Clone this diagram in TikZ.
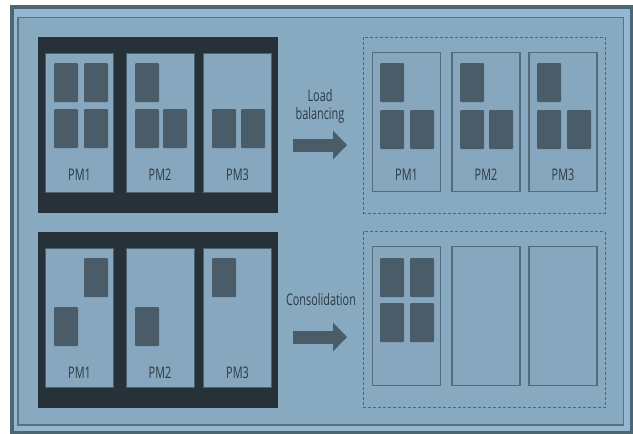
\documentclass[tikz,border=0pt]{standalone}
\usepackage{fontspec}
\setmainfont{Open Sans}[FakeStretch=0.68]
\usetikzlibrary{arrows.meta}
\definecolor{framecol}{HTML}{4E6572}
\definecolor{stripecol}{HTML}{94B8D0}
\definecolor{bgcol}{HTML}{87AAC1}
\definecolor{hostcol}{HTML}{263238}
\definecolor{vmcol}{HTML}{4A5C68}
\definecolor{pmcol}{HTML}{86A7BD}
\definecolor{textcol}{HTML}{2C3A43}
\begin{document}
\begin{tikzpicture}[x=1pt,y=-1pt,
    host/.style={fill=hostcol,inner sep=0,minimum width=240pt,minimum height=176pt},
    pmbox/.style={fill=pmcol,draw=hostcol!60!pmcol,line width=0.6pt,inner sep=0,minimum width=68pt,minimum height=139pt},
    pmfree/.style={fill=pmcol,draw=framecol!90!pmcol,line width=1.4pt,inner sep=0,minimum width=68pt,minimum height=139pt},
    vm/.style={fill=vmcol,rounded corners=1pt,inner sep=0,minimum width=24pt,minimum height=39pt},
    pmtext/.style={text=textcol,font=\fontsize{16}{18}\selectfont},
    group/.style={draw=framecol,dashed,dash pattern=on 3pt off 2pt,line width=0.9pt,inner sep=0,minimum width=242pt,minimum height=176pt},
    bigarrow/.style={draw=vmcol,line width=13pt,-{Triangle[length=14pt,width=28pt]}}]
    \useasboundingbox (0,0) rectangle (633,434);

    % Frame
    \draw[framecol,fill=stripecol,line width=3.5pt] (11.75,6.75) rectangle (631.25,432.25);
    \draw[framecol!80!bgcol,fill=bgcol,line width=1.5pt] (18,17.5) rectangle (623.5,425);

    % Before: hosts
    \node[host] (lbhost) at (158,125) {};
    \node[host] (cohost) at (158,320) {};
    \foreach \X [count=\i] in {79.5,160,237.5}{
    \node[pmbox] (lbpm\i) at (\X,122.5) {};
    \node[pmtext] (lbpm\i-t) at (\X,175) {PM\i};
    \node[pmbox] (copm\i) at (\X,318) {};
    \node[pmtext] (copm\i-t) at (\X,373) {PM\i};
    }

    % After: dashed groups
    \node[group] (lbafter) at (484,125) {};
    \node[group] (coafter) at (484,319.5) {};
    \foreach \X [count=\i] in {406.5,486,563}{
    \node[pmfree] (lbnew\i) at (\X,122) {};
    \node[pmtext] (lbnew\i-t) at (\X,175) {PM\i};
    \node[pmfree] (conew\i) at (\X,316) {};
    }

    % VMs
    \foreach \Point [count=\i] in {(66,82.5),(96,82.5),(66,128.5),(96,128.5),
        (147,82.5),(147,128.5),(175,128.5),(224,128.5),(253,128.5)}{
    \node[vm] (lbvm\i) at \Point {};
    }
    \foreach \Point [count=\i] in {(392,82.5),(392,129.5),(422,129.5),
        (472,82.5),(472,129.5),(501,129.5),(549,82.5),(549,129.5),(579,129.5)}{
    \node[vm] (lbvmnew\i) at \Point {};
    }
    \foreach \Point [count=\i] in {(96,277.5),(66,326.5),(147,326.5),(224,277.5)}{
    \node[vm] (covm\i) at \Point {};
    }
    \foreach \Point [count=\i] in {(392,277.5),(422,277.5),(392,322.5),(422,322.5)}{
    \node[vm] (covmnew\i) at \Point {};
    }

    % Arrows
    \node[pmtext,align=center] (lblabel) at (320,106) {Load\\balancing};
    \coordinate (lbfrom) at (293,145);
    \coordinate (lbto) at (347,145);
    \draw[bigarrow] (lbfrom) -- (lbto);
    \node[pmtext] (colabel) at (321,299) {Consolidation};
    \coordinate (cofrom) at (293,337);
    \coordinate (coto) at (347,337);
    \draw[bigarrow] (cofrom) -- (coto);
\end{tikzpicture}
\end{document}
